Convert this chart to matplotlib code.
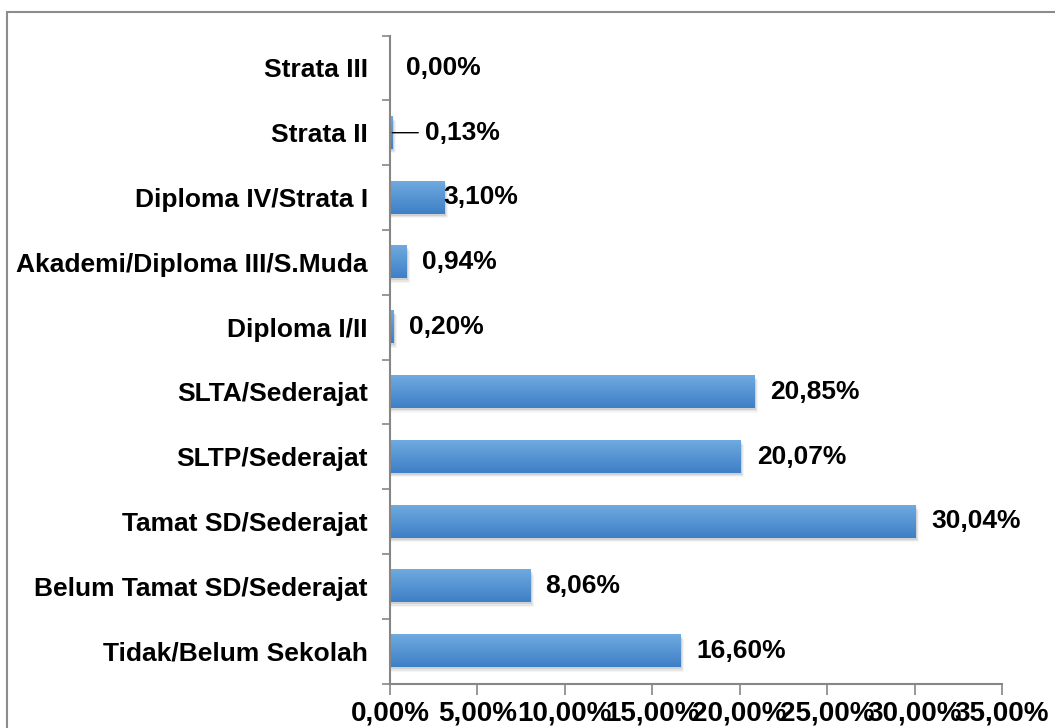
import numpy as np
import matplotlib
matplotlib.use('Agg')
import matplotlib.pyplot as plt
from matplotlib.patches import Rectangle

categories = ['Tidak/Belum Sekolah', 'Belum Tamat SD/Sederajat', 'Tamat SD/Sederajat',
              'SLTP/Sederajat', 'SLTA/Sederajat', 'Diploma I/II',
              'Akademi/Diploma III/S.Muda', 'Diploma IV/Strata I', 'Strata II', 'Strata III']
values = [16.60, 8.06, 30.04, 20.07, 20.85, 0.20, 0.94, 3.10, 0.13, 0.00]
xticks = [0, 5, 10, 15, 20, 25, 30, 35]

plt.rcParams['font.family'] = ['Liberation Sans', 'DejaVu Sans']
plt.rcParams['font.weight'] = 'bold'

fig = plt.figure(figsize=(10.55, 7.28), dpi=100)
ax = fig.add_axes([390/1055, 1-683.5/728, 612/1055, 648/728])

# outer chart frame
fig.patches.append(Rectangle((7/1055, -0.1), 1.2, 1.1-12/728, transform=fig.transFigure,
                             fill=False, edgecolor='#8c8c8c', linewidth=1.5))

grad = np.linspace(0, 1, 64).reshape(-1, 1)
cmap = matplotlib.colors.LinearSegmentedColormap.from_list('bar', ['#6faae0', '#3e7fc6'])
h = 0.25
for i, v in enumerate(values):
    if v <= 0:
        continue
    # soft shadow
    for k, a in enumerate([0.09, 0.06, 0.04]):
        ax.add_patch(Rectangle((0, i - h - 0.03 - k*0.02), v + 0.08 + k*0.06, 2*h,
                               facecolor='black', alpha=a, linewidth=0, zorder=1))
    ax.imshow(grad, extent=[0, v, i - h, i + h], cmap=cmap, aspect='auto',
              origin='upper', zorder=2, interpolation='bilinear')

# label offsets in pixels from bar end
offsets = {8: 33, 7: -1, 1: 14}
for i, v in enumerate(values):
    dx = offsets.get(i, 16)
    ax.annotate(('%.2f%%' % v).replace('.', ','), xy=(v, i), xytext=(dx*0.72, 0),
                textcoords='offset points', ha='left', va='center',
                fontsize=19, fontweight='bold', zorder=5)
# leader line for small label
ax.annotate('', xy=(values[8], 8), xytext=(26*0.72, 0), textcoords='offset points',
            arrowprops=dict(arrowstyle='-', color='black', lw=1, shrinkA=0, shrinkB=0))

ax.set_xlim(0, 35)
ax.set_ylim(-0.5, len(categories) - 0.5)
ax.set_xticks(xticks)
ax.set_xticklabels([('%.2f%%' % t).replace('.', ',') for t in xticks], fontsize=20, fontweight='bold')
ax.set_yticks(range(len(categories)))
ax.set_yticklabels(categories, fontsize=19, fontweight='bold')
ax.set_yticks(np.arange(-0.5, len(categories), 1), minor=True)
ax.tick_params(axis='y', which='major', length=0, pad=16)
ax.tick_params(axis='y', which='minor', length=6, color='#868686', width=1.2, direction='out')
ax.tick_params(axis='x', which='major', length=8, color='#868686', width=1.2, direction='out', pad=4)
for s in ['top', 'right']:
    ax.spines[s].set_visible(False)
for s in ['left', 'bottom']:
    ax.spines[s].set_color('#868686')
    ax.spines[s].set_linewidth(1.5)

plt.savefig('out.png', dpi=100)
